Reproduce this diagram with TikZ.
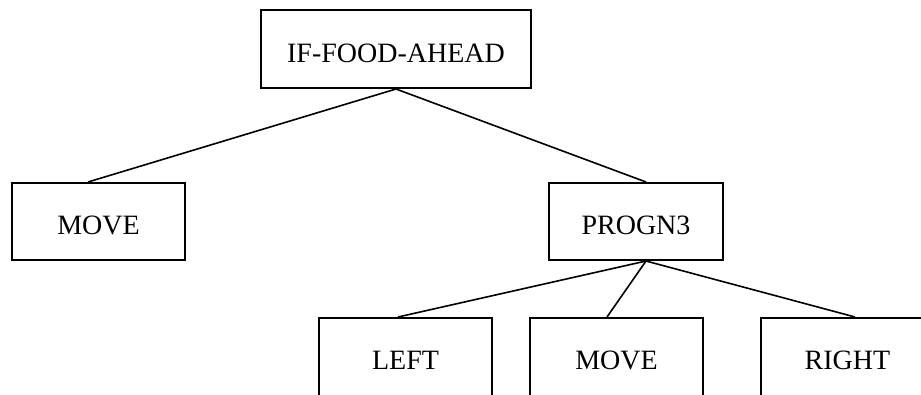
\documentclass[tikz,border=0pt]{standalone}
\usepackage{fontspec}
\setmainfont{Liberation Serif}
\begin{document}
\begin{tikzpicture}[x=1pt,y=-1pt,
  treebox/.style={draw=black, line width=2pt, rectangle, inner sep=0pt,
    minimum height=77pt, text height=26pt, text depth=0pt,
    font=\fontsize{28}{30}\selectfont},
  lowbox/.style={treebox, minimum height=82pt, text height=21pt},
  branch/.style={draw=black, line width=1.6pt}]
  % page frame
  \fill[white] (0,0) rectangle (921,394);
  \useasboundingbox (0,0) rectangle (921,394);
  \clip (0,0) rectangle (921,394);

  % tree nodes
  \node[treebox, minimum width=270pt, minimum height=78pt] (root) at (396,49) {IF-FOOD-AHEAD};
  \node[treebox, minimum width=173pt] (move) at (98.5,221.5) {MOVE};
  \node[treebox, minimum width=174pt] (progn) at (636,221.5) {PROGN3};
  \node[lowbox, minimum width=173pt] (left) at (405.5,359) {LEFT};
  \node[lowbox, minimum width=173pt] (move2) at (616.5,359) {MOVE};
  \node[lowbox, minimum width=173pt] (right) at (847.5,359) {RIGHT};

  % branches
  \draw[branch] (root.south) -- ([xshift=-10.5pt]move.north);
  \draw[branch] (root.south) -- ([xshift=10pt]progn.north);
  \draw[branch] ([xshift=10pt]progn.south) -- ([xshift=-7.5pt]left.north);
  \draw[branch] ([xshift=10pt]progn.south) -- ([xshift=-9.5pt]move2.north);
  \draw[branch] ([xshift=10pt]progn.south) -- ([xshift=7.5pt]right.north);
\end{tikzpicture}
\end{document}
